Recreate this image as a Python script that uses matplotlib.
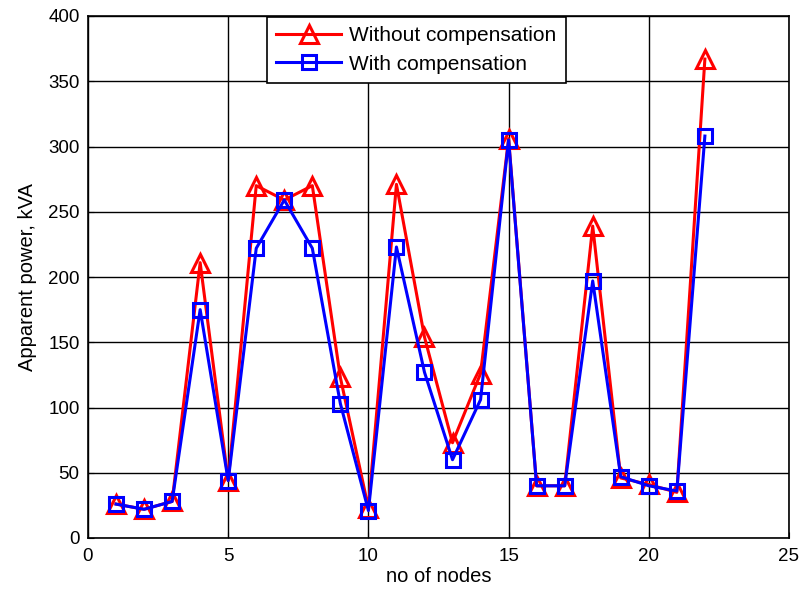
import matplotlib
matplotlib.use("Agg")
import matplotlib.pyplot as plt

nodes = list(range(1, 23))
without_comp = [26, 22, 28, 211, 44, 270, 259, 270, 123, 23, 271, 154, 73, 126, 306,
                40, 40, 239, 46, 41, 35, 367]
with_comp = [26, 22, 28, 175, 44, 222, 259, 222, 103, 21, 223, 127, 60, 106, 305,
             40, 40, 197, 47, 40, 36, 308]

plt.rcParams['font.family'] = ['Liberation Sans', 'DejaVu Sans']
fig = plt.figure(figsize=(8.03, 5.96), dpi=100)
ax = fig.add_axes([88/803, 1-538/596, (789-88)/803, (538-16)/596])

ax.plot(nodes, without_comp, color='red', lw=2.2, marker='^', markersize=13.5,
        markerfacecolor='none', markeredgewidth=2.2, label='Without compensation')
ax.plot(nodes, with_comp, color='blue', lw=2.2, marker='s', markersize=10.5,
        markerfacecolor='none', markeredgewidth=2.2, label='With compensation')

ax.set_xlim(0, 25)
ax.set_ylim(0, 400)
ax.set_xticks(range(0, 26, 5))
ax.set_yticks(range(0, 401, 50))
ax.grid(True, color='black', lw=1, ls='-')
ax.set_axisbelow(True)
ax.tick_params(direction='in', labelsize=13.5, length=4)
ax.tick_params(axis='x', pad=7)
ax.tick_params(axis='y', pad=6)
for s in ax.spines.values():
    s.set_linewidth(1.2)
ax.set_xlabel('no of nodes', fontsize=14.5, labelpad=2)
ax.set_ylabel('Apparent power, kVA', fontsize=14.5, labelpad=8)
leg = ax.legend(loc='upper center', bbox_to_anchor=(0.4686, 1.0), fontsize=15,
                fancybox=False, edgecolor='black', framealpha=1, handlelength=3.1,
                handletextpad=0.4, borderaxespad=0.05, labelspacing=0.45,
                borderpad=0.45)
leg.get_frame().set_linewidth(1.2)

fig.savefig('out.png', dpi=100)
